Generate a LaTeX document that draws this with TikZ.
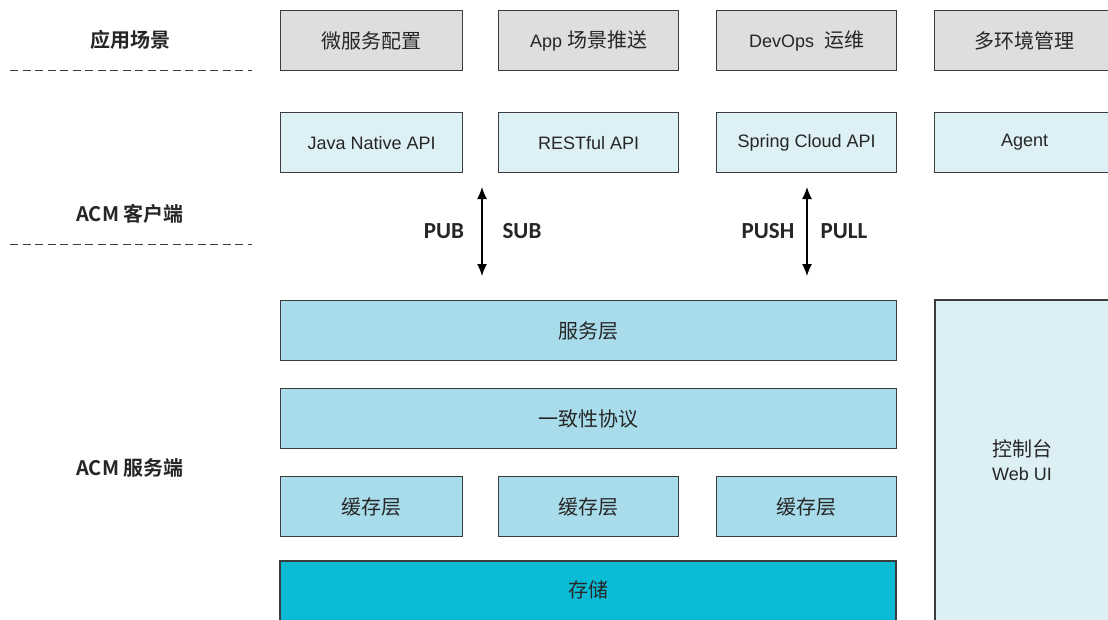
\documentclass[tikz,border=0pt]{standalone}
\usepackage{fontspec}
\setmainfont{Liberation Sans}
\newfontfamily\cjk{Noto Sans CJK SC}
\newfontfamily\cjkb{Noto Sans CJK SC Bold}
\newfontfamily\lab{Carlito}
\usetikzlibrary{arrows.meta}
\definecolor{edge}{HTML}{3C3C3C}
\definecolor{scenefill}{HTML}{DEDEDE}
\definecolor{apifill}{HTML}{DDF0F5}
\definecolor{layerfill}{HTML}{A8DCEA}
\definecolor{storefill}{HTML}{0ABBD5}
\definecolor{uifill}{HTML}{DCEFF4}
\newcommand{\zh}[1]{{\cjk\fontsize{20}{22}\selectfont #1}}
\begin{document}
\begin{tikzpicture}[x=1pt,y=-1pt,
  blk/.style={draw=edge, line width=1.3pt, anchor=north west, inner sep=0pt,
    font=\fontsize{18}{21}\selectfont, text=black!85, align=center},
  scene/.style={blk, fill=scenefill, minimum height=60pt},
  api/.style={blk, fill=apifill, minimum height=60pt},
  layer/.style={blk, fill=layerfill, minimum height=60pt},
  sidelab/.style={font=\cjkb\fontsize{20}{22}\selectfont, text=black!85},
  flowlab/.style={font=\lab\bfseries\fontsize{23}{25}\selectfont, text=black!85},
  sep/.style={draw=edge, line width=1pt, dash pattern=on 8pt off 4.5pt},
  flow/.style={draw=black, line width=1.3pt, {Latex[length=12pt,width=10pt]}-{Latex[length=12pt,width=10pt]}}
]
\useasboundingbox (0,0) rectangle (1108,619);
\fill[white] (0,0) rectangle (1108,619);

% left labels
\node[sidelab] (lscene) at (130,40) {应用场景};
\node[sidelab] (lclient) at (130,214) {ACM 客户端};
\node[sidelab] (lserver) at (130,468) {ACM 服务端};
\coordinate (d1a) at (10,70); \coordinate (d1b) at (252,70);
\coordinate (d2a) at (10,244); \coordinate (d2b) at (252,244);
\draw[sep] (d1a) -- (d1b);
\draw[sep] (d2a) -- (d2b);

% scenario row
\node[scene, minimum width=182pt] (s1) at (280,10) {\zh{微服务配置}};
\node[scene, minimum width=180pt] (s2) at (498,10) {App \zh{场景推送}};
\node[scene, minimum width=180pt] (s3) at (716,10) {DevOps\ \ \zh{运维}};
\node[scene, minimum width=180pt] (s4) at (934,10) {\zh{多环境管理}};

% client API row
\node[api, minimum width=182pt] (a1) at (280,112) {Java Native API};
\node[api, minimum width=180pt] (a2) at (498,112) {RESTful API};
\node[api, minimum width=180pt] (a3) at (716,112) {Spring Cloud API};
\node[api, minimum width=180pt] (a4) at (934,112) {Agent};

% arrows
\coordinate (p1t) at (482,187); \coordinate (p1b) at (482,276);
\coordinate (p2t) at (807,187); \coordinate (p2b) at (807,276);
\draw[flow] (p1t) -- (p1b);
\draw[flow] (p2t) -- (p2b);
\node[flowlab] (pub) at (444,231) {PUB};
\node[flowlab] (sub) at (522,231) {SUB};
\node[flowlab] (push) at (768,231) {PUSH};
\node[flowlab] (pull) at (844,231) {PULL};

% server
\node[layer, minimum width=616pt] (svc) at (280,300) {\zh{服务层}};
\node[layer, minimum width=616pt] (cons) at (280,388) {\zh{一致性协议}};
\node[layer, minimum width=182pt] (c1) at (280,476) {\zh{缓存层}};
\node[layer, minimum width=180pt] (c2) at (498,476) {\zh{缓存层}};
\node[layer, minimum width=180pt] (c3) at (716,476) {\zh{缓存层}};
\draw[draw=edge, line width=1.3pt, fill=storefill] (280,561) rectangle (896,630);
\node[text=black!85] (store) at (588,590) {\zh{存储}};

\draw[draw=edge, line width=1.3pt, fill=uifill] (935,300) rectangle (1115,630);
\node[font=\fontsize{18}{24}\selectfont, text=black!85, align=center] (ui) at (1022,460) {\zh{控制台}\\Web UI};
\end{tikzpicture}
\end{document}
